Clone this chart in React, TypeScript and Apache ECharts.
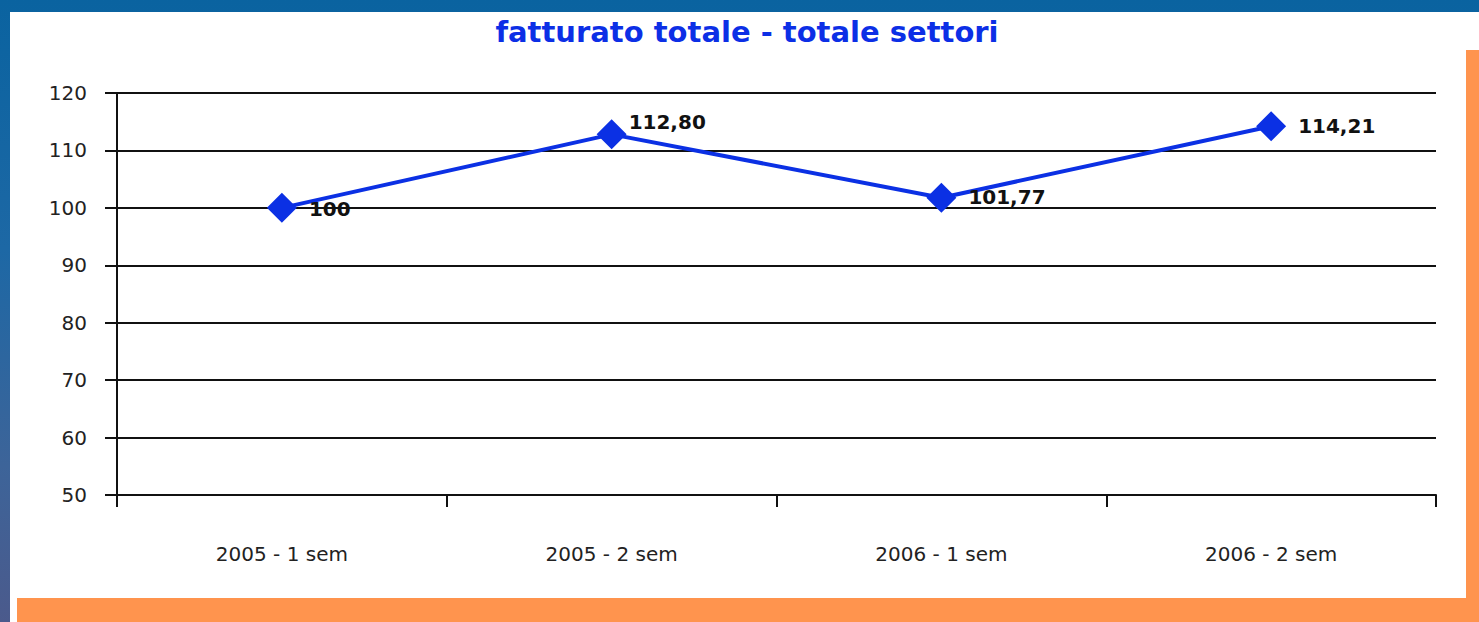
import React, { useEffect, useRef } from "react";
import * as echarts from "echarts";

const categories = ["2005 - 1 sem", "2005 - 2 sem", "2006 - 1 sem", "2006 - 2 sem"];
const values = [100, 112.8, 101.77, 114.21];
const valueLabels = ["100", "112,80", "101,77", "114,21"];
const titleText = "fatturato totale - totale settori";
const yMin = 50;
const yMax = 120;
const yInterval = 10;

const labelOffsets: number[][] = [[0, 1], [-10, -12], [0, -1], [0, 0]];

export default function App() {
  const ref = useRef<HTMLDivElement>(null);
  useEffect(() => {
    document.body.style.margin = "0";
    const chart = echarts.init(ref.current!, null, { renderer: "svg" });
    const W = 1479;
    const H = 622;
    chart.setOption({
      animation: false,
      graphic: [
        { type: "rect", z: -10, shape: { x: 10, y: 12, width: W - 10, height: H - 12 }, style: { fill: "#ffffff" }, silent: true },
        { type: "rect", z: -9, shape: { x: 1466, y: 50, width: 13, height: H - 50 }, style: { fill: "#ff944e" }, silent: true },
        { type: "rect", z: -9, shape: { x: 17, y: 598, width: W - 17, height: 24 }, style: { fill: "#ff944e" }, silent: true },
      ],
      title: {
        text: titleText,
        left: 742,
        textAlign: "center",
        top: 12,
        textStyle: {
          fontFamily: "DejaVu Sans",
          fontWeight: "bold",
          fontSize: 29,
          color: "#0c2fe6",
        },
      },
      grid: { left: 117, right: 43, top: 93, bottom: 127 },
      xAxis: {
        type: "category",
        data: categories,
        boundaryGap: true,
        axisLine: { lineStyle: { color: "#111", width: 2 } },
        axisTick: { show: true, length: 12, lineStyle: { color: "#111", width: 2 } },
        axisLabel: {
          margin: 49,
          fontFamily: "DejaVu Sans",
          fontSize: 20,
          color: "#222",
        },
        splitLine: { show: false },
      },
      yAxis: {
        type: "value",
        min: yMin,
        max: yMax,
        interval: yInterval,
        axisLine: { show: true, lineStyle: { color: "#111", width: 2 } },
        axisTick: { show: true, length: 12, lineStyle: { color: "#111", width: 2 } },
        axisLabel: {
          margin: 30,
          fontFamily: "DejaVu Sans",
          fontSize: 20,
          color: "#222",
        },
        splitLine: { show: true, lineStyle: { color: "#111", width: 2 } },
      },
      series: [
        {
          type: "line",
          data: values.map((v, i) => ({
            value: v,
            label: {
              formatter: valueLabels[i],
              offset: labelOffsets[i],
            },
          })),
          symbol: "diamond",
          symbolSize: 30,
          lineStyle: { color: "#0b30e4", width: 4 },
          itemStyle: { color: "#0b30e4" },
          label: {
            show: true,
            position: "right",
            distance: 12,
            fontFamily: "DejaVu Sans",
            fontWeight: "bold",
            fontSize: 20,
            color: "#111",
          },
          z: 5,
        },
      ],
    });
    return () => chart.dispose();
  }, []);
  return (
    <div
      style={{
        width: 1479,
        height: 622,
        background: "linear-gradient(180deg, #0a63a0 0%, #1d68a5 40%, #3d6499 75%, #4b5a8c 100%)",
      }}
    >
      <div ref={ref} style={{ width: 1479, height: 622 }} />
    </div>
  );
}
